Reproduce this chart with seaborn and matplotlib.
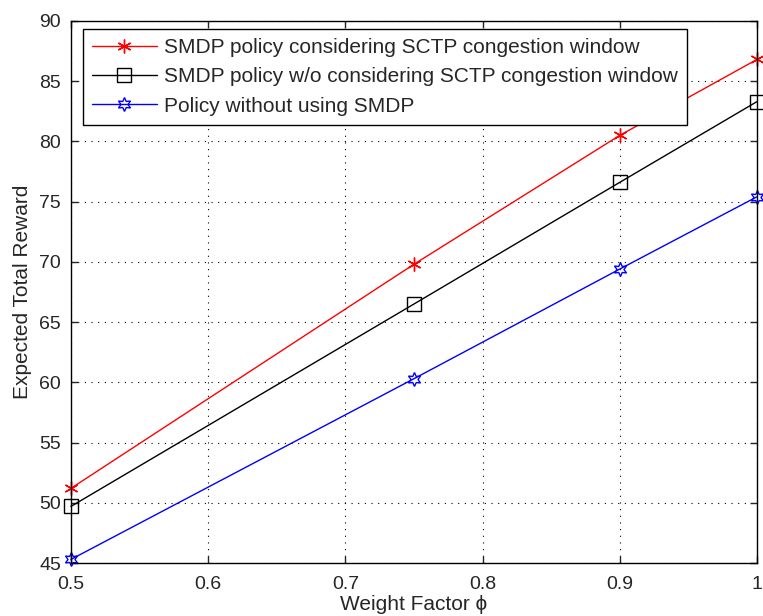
import matplotlib
matplotlib.use("Agg")
import matplotlib.pyplot as plt
import seaborn as sns
import pandas as pd

weight = [0.5, 0.75, 0.9, 1.0]
smdp_cwnd = [51.2, 69.8, 80.5, 86.8]
smdp_no_cwnd = [49.7, 66.5, 76.6, 83.3]
no_smdp = [45.3, 60.3, 69.4, 75.4]
labels = ["SMDP policy considering SCTP congestion window",
          "SMDP policy w/o considering SCTP congestion window",
          "Policy without using SMDP"]
xticks = [0.5, 0.6, 0.7, 0.8, 0.9, 1.0]
xticklabels = ["0.5", "0.6", "0.7", "0.8", "0.9", "1"]
yticks = [45, 50, 55, 60, 65, 70, 75, 80, 85, 90]

sns.set_style("ticks")
plt.rcParams['font.family'] = ['Liberation Sans', 'DejaVu Sans']

fig = plt.figure(figsize=(7.63, 6.16), dpi=100)
ax = fig.add_axes([0.093, 0.086, 0.899, 0.880])

series = [smdp_cwnd, smdp_no_cwnd, no_smdp]
colors = ["#ff0000", "#000000", "#0000ff"]
markers = [(6, 2, 0), "s", (6, 1, 0)]
for vals, lab, c, m in zip(series, labels, colors, markers):
    df = pd.DataFrame({"x": weight, "y": vals})
    sns.lineplot(data=df, x="x", y="y", ax=ax, color=c, marker=m,
                 markersize=10, markerfacecolor="none", markeredgecolor=c,
                 markeredgewidth=1.0, linewidth=1.0, label=lab, clip_on=False)

ax.set_xlim(0.5, 1.0)
ax.set_ylim(45, 90)
ax.set_xticks(xticks)
ax.set_xticklabels(xticklabels)
ax.set_yticks(yticks)
ax.tick_params(direction="in", top=True, right=True, labelsize=14, length=5,
               width=1.0, pad=7)
ax.tick_params(axis="x", pad=9)
ax.grid(True, linestyle=(0, (1, 5)), color="black", linewidth=0.8)
for s in ax.spines.values():
    s.set_linewidth(1.0)
    s.set_color("black")
ax.set_xlabel("Weight Factor ϕ", fontsize=15, labelpad=2)
ax.set_ylabel("Expected Total Reward", fontsize=15, labelpad=5)

leg = ax.legend(loc="upper left", bbox_to_anchor=(0.017, 0.986), fontsize=15,
                frameon=True, fancybox=False, framealpha=1, edgecolor="black",
                handlelength=3.1, borderpad=0.45, labelspacing=0.5,
                handletextpad=0.35, borderaxespad=0)
leg.get_frame().set_linewidth(1.0)

fig.savefig("out.png", dpi=100)
